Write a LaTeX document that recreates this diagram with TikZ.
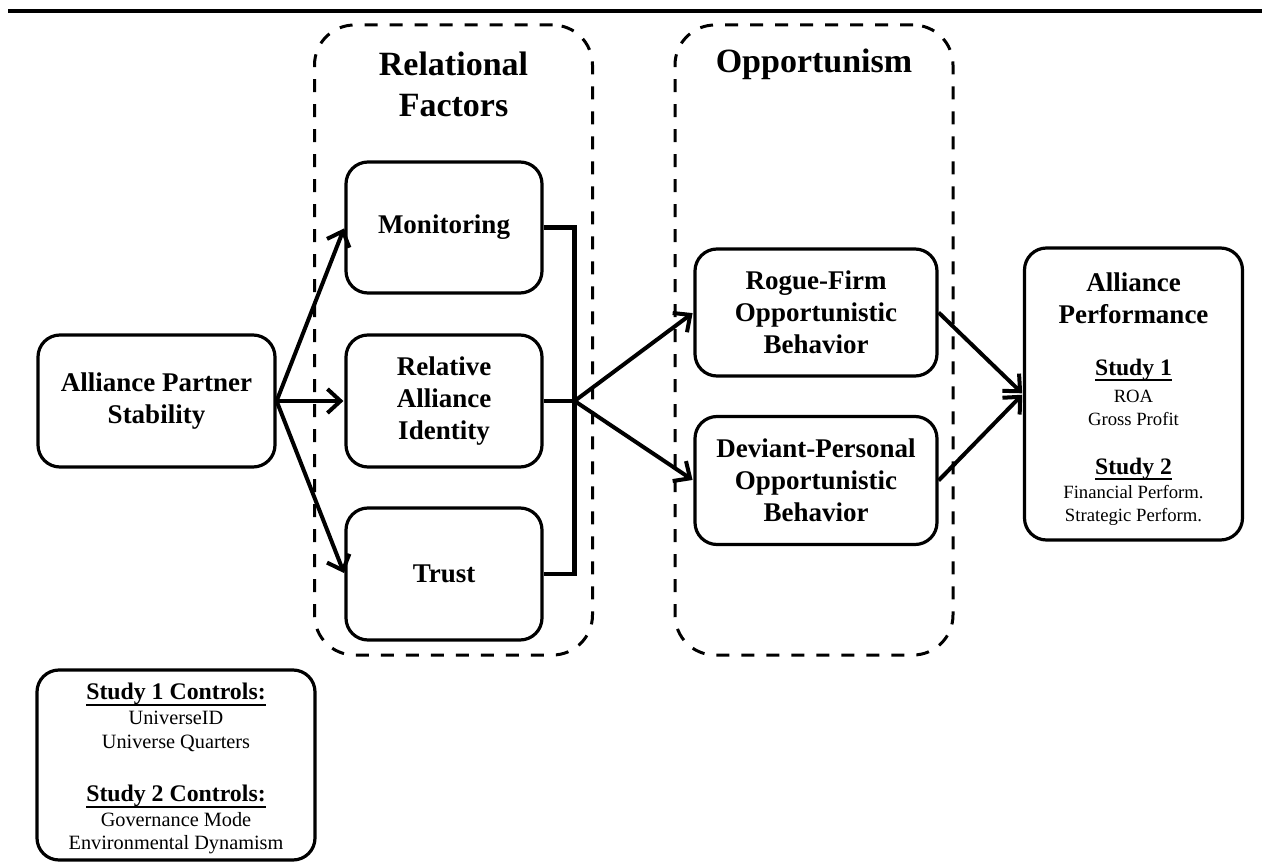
\documentclass[tikz,border=0pt]{standalone}
\usepackage{fontspec}
\setmainfont{Liberation Serif}
\usetikzlibrary{positioning,arrows.meta}

\newcommand{\heading}[1]{\setbox0\hbox{#1}\rlap{\rule[-6pt]{\wd0}{2pt}}\box0}

\begin{document}
\begin{tikzpicture}[x=1pt, y=-1pt, on grid,
    box/.style={draw, line width=3.2pt, rounded corners=22pt, inner sep=0pt,
        align=center, font=\fontsize{27}{32}\selectfont\bfseries},
    midbox/.style={box, minimum width=196pt, minimum height=132pt},
    oppbox/.style={box, minimum width=242pt, minimum height=127pt},
    group/.style={draw, line width=3pt, rounded corners=40pt,
        dash pattern=on 13pt off 12pt, minimum width=278pt, minimum height=630pt},
    title/.style={align=center, font=\fontsize{34}{41}\selectfont\bfseries},
    arr/.style={line width=4pt, shorten >=1pt,
        -{Straight Barb[length=13pt,width=24pt]}},
    bracket/.style={line width=4.5pt}]

    \useasboundingbox (0,0) rectangle (1262,864);
    \draw[line width=4pt] (8,11) -- (1262,11);

    % dashed groups
    \node[group] (rel) at (453.5,340) {};
    \node[group] (opp) at (814,340) {};
    \node[title] (reltitle) at (453.5,84) {Relational\\Factors};
    \node[title] (opptitle) at (814,64) {Opportunism};

    \node[box, minimum width=237pt, minimum height=132pt] (aps) at (156.5,401) {Alliance Partner\\Stability};
    \node[midbox] (rai) [right=287.5pt of aps] {Relative\\Alliance\\Identity};
    \node[midbox, minimum height=131pt] (mon) [above=173.5pt of rai] {Monitoring};
    \node[midbox] (trust) [below=173pt of rai] {Trust};

    \node[oppbox] (rogue) at (816,312.5) {Rogue-Firm\\Opportunistic\\Behavior};
    \node[oppbox, minimum height=128pt] (deviant) [below=168pt of rogue] {Deviant-Personal\\Opportunistic\\Behavior};

    \node[box, minimum width=218pt, minimum height=292pt,
        font=\fontsize{18.7}{22.5}\selectfont] (perf) at (1133.5,394)
        {{}\\[7pt]
         \fontsize{27}{32}\selectfont\bfseries Alliance\\[9.5pt]
         \fontsize{27}{32}\selectfont\bfseries Performance\\[29.5pt]
         \fontsize{23.6}{25}\selectfont\bfseries\heading{Study 1}\\[5pt]
         ROA\\
         Gross Profit\\[26.5pt]
         \fontsize{23.6}{25}\selectfont\bfseries\heading{Study 2}\\[2pt]
         Financial Perform.\\[0.5pt]
         Strategic Perform.};

    \node[box, minimum width=278pt, minimum height=190pt,
        font=\fontsize{20.3}{24}\selectfont] (ctrl) at (176,765)
        {{}\\[0pt]
         \fontsize{23.8}{25}\selectfont\bfseries\heading{Study 1 Controls:}\\[1pt]
         UniverseID\\
         Universe Quarters\\[29pt]
         \fontsize{23.8}{25}\selectfont\bfseries\heading{Study 2 Controls:}\\[1pt]
         Governance Mode\\[-1pt]
         Environmental Dynamism};

    \coordinate[right=31pt of rai.east] (jn);

    \draw[arr] (aps.east) -- (mon.west);
    \draw[arr] (aps.east) -- (rai.west);
    \draw[arr] (aps.east) -- (trust.west);

    \draw[bracket] (mon.east) -| (jn) |- (trust.east);
    \draw[bracket] (rai.east) -- (jn);

    \draw[arr] (jn) -- (rogue.west);
    \draw[arr] (jn) -- (deviant.west);
    \draw[arr] (rogue.east) -- (perf.west);
    \draw[arr] (deviant.east) -- (perf.west);

\end{tikzpicture}
\end{document}
